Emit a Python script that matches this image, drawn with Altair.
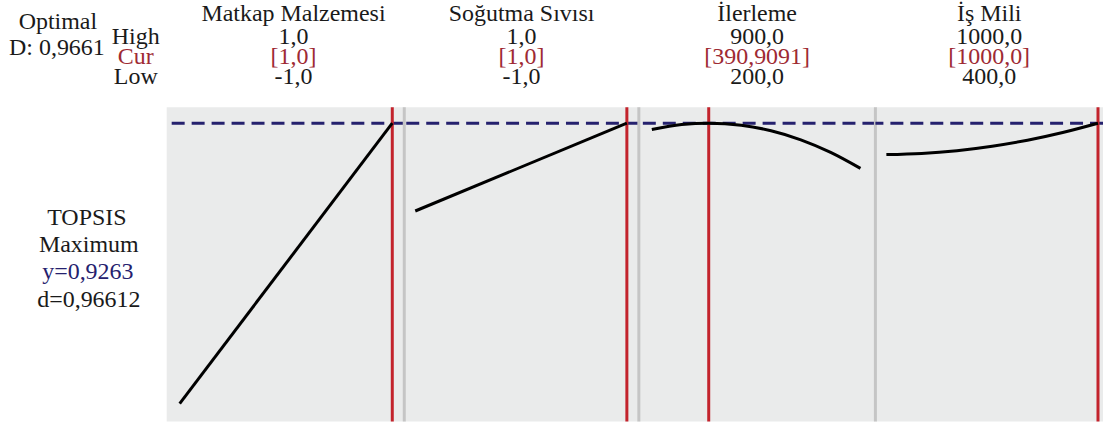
import altair as alt
import pandas as pd

# ---------------- data ----------------
factors = ["Matkap Malzemesi", "Soğutma Sıvısı", "İlerleme", "İş Mili"]
high_labels = ["1,0", "1,0", "900,0", "1000,0"]
cur_labels = ["[1,0]", "[1,0]", "[390,9091]", "[1000,0]"]
low_labels = ["-1,0", "-1,0", "200,0", "400,0"]
cur_values = [1.0, 1.0, 390.9091, 1000.0]
y_current = 0.9263

p1_x = [-1.0, 1.0]
p1_y = [0.5048, 0.9263]
p2_x = [-1.0, 1.0]
p2_y = [0.7943, 0.9263]
p3_x = [200, 300, 390.9091, 500, 600, 700, 800, 900]
p3_y = [0.9167, 0.9242, 0.9263, 0.9232, 0.9149, 0.9013, 0.8824, 0.8584]
p4_x = [400, 500, 600, 700, 800, 900, 1000]
p4_y = [0.8791, 0.8808, 0.8850, 0.8917, 0.9007, 0.9123, 0.9263]

curve_x = [p1_x, p2_x, p3_x, p4_x]
curve_y = [p1_y, p2_y, p3_y, p4_y]

# ---------------- style / layout ----------------
FONT = "Liberation Serif"
FS = 24
RED_TXT = "#9e2a33"
BLACK = "#1a1a1a"
NAVY = "#25216e"
RED = "#c3232c"
SEP = "#c5c5c5"
BG = "#eaebeb"

H_HEAD = 107
H_BODY = 315
LEFT_W = 167
widths = [238, 235, 237, 228]
head_cx = [127, 117.5, 118.5, 114]
xdomains = [[-1.122, 1.1127], [-1.1038, 1.1132], [156.46, 950.2], [368.9, 1014.2]]
ydomain = [0.4778, 0.9503]


def txt(text, x, y, color=BLACK, size=FS):
    return alt.Chart(pd.DataFrame({"t": [text]})).mark_text(
        font=FONT, fontSize=size, color=color, align="center", baseline="alphabetic"
    ).encode(x=alt.value(x), y=alt.value(y), text="t:N")


# header row
head_left = alt.layer(
    txt("Optimal", 58, 29),
    txt("D: 0,9661", 57, 55),
    txt("High", 136, 44),
    txt("Cur", 136, 64, RED_TXT),
    txt("Low", 136, 84),
).properties(width=LEFT_W, height=H_HEAD)

head_panels = []
for i in range(4):
    cx = head_cx[i]
    head_panels.append(
        alt.layer(
            txt(factors[i], cx, 21),
            txt(high_labels[i], cx, 44),
            txt(cur_labels[i], cx, 64, RED_TXT),
            txt(low_labels[i], cx, 84),
        ).properties(width=widths[i], height=H_HEAD)
    )

# body row
body_left = alt.layer(
    txt("TOPSIS", 87, 118),
    txt("Maximum", 89, 145),
    txt("y=0,9263", 88, 172, NAVY),
    txt("d=0,96612", 89, 200),
).properties(width=LEFT_W, height=H_BODY)


def panel(i):
    xs = alt.Scale(domain=xdomains[i], nice=False, zero=False)
    ys = alt.Scale(domain=ydomain, nice=False, zero=False)
    layers = []
    if i > 0:
        layers.append(
            alt.Chart(pd.DataFrame({"a": [0]}))
            .mark_rule(color=SEP, strokeWidth=3)
            .encode(x=alt.value(0))
        )
    layers.append(
        alt.Chart(pd.DataFrame({"y": [y_current]}))
        .mark_rule(color=NAVY, strokeWidth=3, strokeDash=[13, 7])
        .encode(y=alt.Y("y:Q", scale=ys, axis=None))
    )
    layers.append(
        alt.Chart(pd.DataFrame({"x": [cur_values[i]]}))
        .mark_rule(color=RED, strokeWidth=3)
        .encode(x=alt.X("x:Q", scale=xs, axis=None))
    )
    layers.append(
        alt.Chart(pd.DataFrame({"x": curve_x[i], "y": curve_y[i]}))
        .mark_line(color="black", strokeWidth=3, interpolate="monotone")
        .encode(
            x=alt.X("x:Q", scale=xs, axis=None),
            y=alt.Y("y:Q", scale=ys, axis=None),
        )
    )
    return alt.layer(*layers).properties(
        width=widths[i], height=H_BODY, view=alt.ViewBackground(fill=BG, stroke=None)
    )


cells = [head_left, *head_panels, body_left, *[panel(i) for i in range(4)]]

chart = (
    alt.concat(*cells, columns=5, spacing=0, bounds="flush")
    .properties(padding=0, background="white")
    .configure_view(stroke=None)
)

chart.save("out.html", embed_options={"renderer": "svg", "actions": False})
